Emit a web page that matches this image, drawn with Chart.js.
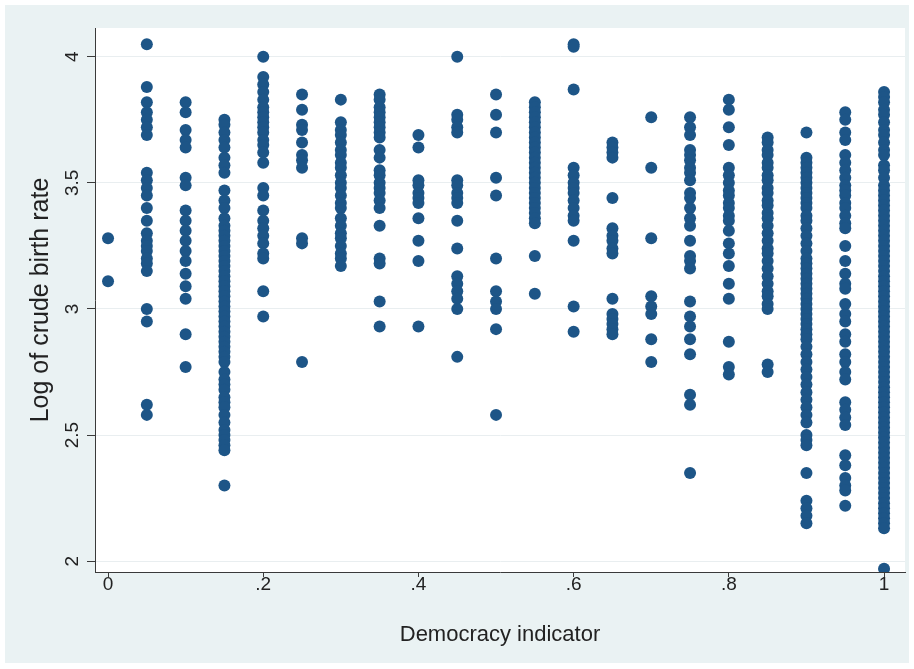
<!DOCTYPE html>
<html>
<head>
<meta charset="utf-8">
<script src="https://cdn.jsdelivr.net/npm/chart.js@4.4.1/dist/chart.umd.min.js"></script>
<style>
  html, body { margin: 0; padding: 0; background: #ffffff; }
  #wrap { position: relative; width: 914px; height: 669px; }
</style>
</head>
<body>
<div id="wrap"><canvas id="chart" width="914" height="669"></canvas></div>
<script>
// democracy indicator categories (x) and log crude birth rate values
const democracy = [0, 0.05, 0.1, 0.15, 0.2, 0.25, 0.3, 0.35, 0.4, 0.45, 0.5,
  0.55, 0.6, 0.65, 0.7, 0.75, 0.8, 0.85, 0.9, 0.95, 1];

const rate00 = [3.28, 3.11];
const rate05 = [4.05, 3.88, 3.82, 3.78, 3.75, 3.72, 3.69, 3.54, 3.51, 3.48, 3.45, 3.40, 3.35,
  3.30, 3.27, 3.25, 3.23, 3.20, 3.18, 3.15, 3.00, 2.95, 2.62, 2.58];
const rate10 = [3.82, 3.78, 3.71, 3.67, 3.64, 3.52, 3.49, 3.39, 3.35, 3.31, 3.27, 3.23, 3.19,
  3.14, 3.09, 3.04, 2.90, 2.77];
const rate15 = [3.75, 3.73, 3.70, 3.67, 3.64, 3.60, 3.57, 3.54, 3.47, 3.43, 3.40, 3.36, 3.33,
  3.31, 3.29, 3.27, 3.25, 3.23, 3.21, 3.19, 3.17, 3.15, 3.13, 3.11, 3.09, 3.07, 3.05, 3.03,
  3.01, 2.99, 2.97, 2.95, 2.93, 2.91, 2.89, 2.87, 2.85, 2.83, 2.81, 2.79, 2.75, 2.72, 2.70,
  2.68, 2.65, 2.63, 2.61, 2.58, 2.55, 2.52, 2.50, 2.48, 2.46, 2.44, 2.30];
const rate20 = [4.00, 3.92, 3.89, 3.86, 3.83, 3.80, 3.78, 3.76, 3.74, 3.72, 3.70, 3.67, 3.65,
  3.62, 3.58, 3.48, 3.45, 3.39, 3.35, 3.32, 3.29, 3.26, 3.22, 3.20, 3.07, 2.97];
const rate25 = [3.85, 3.79, 3.73, 3.71, 3.66, 3.61, 3.59, 3.56, 3.28, 3.26, 2.79];
const rate30 = [3.83, 3.74, 3.71, 3.69, 3.66, 3.63, 3.61, 3.58, 3.56, 3.53, 3.50, 3.48, 3.45,
  3.42, 3.40, 3.36, 3.33, 3.30, 3.28, 3.25, 3.22, 3.20, 3.17];
const rate35 = [3.85, 3.83, 3.80, 3.78, 3.76, 3.74, 3.72, 3.70, 3.68, 3.63, 3.60, 3.55, 3.53,
  3.50, 3.48, 3.46, 3.43, 3.40, 3.33, 3.20, 3.18, 3.03, 2.93];
const rate40 = [3.69, 3.64, 3.51, 3.49, 3.46, 3.44, 3.42, 3.36, 3.27, 3.19, 2.93];
const rate45 = [4.00, 3.77, 3.75, 3.72, 3.70, 3.51, 3.49, 3.46, 3.44, 3.42, 3.35, 3.24, 3.13,
  3.10, 3.07, 3.04, 3.00, 2.81];
const rate50 = [3.85, 3.77, 3.70, 3.52, 3.45, 3.20, 3.07, 3.03, 3.00, 2.92, 2.58];
const rate55 = [3.82, 3.80, 3.78, 3.76, 3.74, 3.72, 3.70, 3.68, 3.66, 3.64, 3.62, 3.60, 3.58,
  3.56, 3.54, 3.52, 3.50, 3.48, 3.46, 3.44, 3.42, 3.40, 3.38, 3.36, 3.34, 3.21, 3.06];
const rate60 = [4.05, 4.04, 3.87, 3.56, 3.53, 3.50, 3.48, 3.46, 3.43, 3.40, 3.37, 3.35, 3.27,
  3.01, 2.91];
const rate65 = [3.66, 3.64, 3.62, 3.60, 3.44, 3.32, 3.29, 3.27, 3.24, 3.22, 3.04, 2.98, 2.96,
  2.94, 2.92, 2.90];
const rate70 = [3.76, 3.56, 3.28, 3.05, 3.01, 2.98, 2.88, 2.79];
const rate75 = [3.76, 3.72, 3.69, 3.63, 3.61, 3.59, 3.56, 3.54, 3.51, 3.46, 3.44, 3.40, 3.36,
  3.33, 3.27, 3.21, 3.19, 3.16, 3.03, 2.97, 2.93, 2.88, 2.82, 2.66, 2.62, 2.35];
const rate80 = [3.83, 3.79, 3.72, 3.65, 3.56, 3.53, 3.50, 3.47, 3.45, 3.42, 3.40, 3.37, 3.35,
  3.31, 3.26, 3.22, 3.17, 3.10, 3.04, 2.87, 2.77, 2.74];
const rate85 = [3.68, 3.66, 3.63, 3.61, 3.58, 3.56, 3.53, 3.51, 3.48, 3.46, 3.43, 3.41, 3.38,
  3.36, 3.33, 3.30, 3.27, 3.24, 3.22, 3.19, 3.16, 3.13, 3.10, 3.07, 3.05, 3.02, 3.00, 2.78, 2.75];
const rate90 = [3.70, 3.60, 3.58, 3.56, 3.54, 3.52, 3.50, 3.48, 3.46, 3.44, 3.42, 3.40, 3.37,
  3.35, 3.32, 3.29, 3.26, 3.23, 3.20, 3.18, 3.16, 3.14, 3.12, 3.10, 3.08, 3.06, 3.04, 3.02,
  3.00, 2.98, 2.96, 2.94, 2.92, 2.90, 2.88, 2.85, 2.82, 2.79, 2.76, 2.73, 2.70, 2.67, 2.64,
  2.61, 2.58, 2.55, 2.50, 2.48, 2.46, 2.35, 2.24, 2.21, 2.18, 2.15];
const rate95 = [3.78, 3.75, 3.70, 3.67, 3.61, 3.58, 3.55, 3.52, 3.49, 3.47, 3.45, 3.42, 3.40,
  3.37, 3.34, 3.32, 3.25, 3.19, 3.14, 3.10, 3.08, 3.02, 2.98, 2.95, 2.90, 2.87, 2.82, 2.79,
  2.75, 2.72, 2.63, 2.60, 2.57, 2.54, 2.42, 2.38, 2.33, 2.30, 2.28, 2.22];
const rate100 = [3.86, 3.84, 3.82, 3.79, 3.77, 3.74, 3.71, 3.69, 3.66, 3.63, 3.61, 3.57, 3.55,
  3.52, 3.49, 3.47, 3.45, 3.43, 3.41, 3.39, 3.37, 3.35, 3.33, 3.31, 3.29, 3.27, 3.25, 3.23,
  3.21, 3.19, 3.17, 3.15, 3.13, 3.11, 3.09, 3.07, 3.05, 3.03, 3.01, 2.99, 2.97, 2.95, 2.93,
  2.91, 2.89, 2.87, 2.85, 2.83, 2.81, 2.79, 2.77, 2.75, 2.73, 2.71, 2.69, 2.67, 2.65, 2.63,
  2.61, 2.59, 2.57, 2.55, 2.53, 2.51, 2.49, 2.47, 2.45, 2.43, 2.41, 2.39, 2.37, 2.35, 2.33,
  2.31, 2.29, 2.27, 2.25, 2.23, 2.21, 2.19, 2.17, 2.15, 2.13, 1.97];

const rateColumns = [rate00, rate05, rate10, rate15, rate20, rate25, rate30, rate35, rate40,
  rate45, rate50, rate55, rate60, rate65, rate70, rate75, rate80, rate85, rate90, rate95, rate100];

const xTicks = [0, 0.2, 0.4, 0.6, 0.8, 1];
const xTickLabels = ['0', '.2', '.4', '.6', '.8', '1'];
const yTicks = [2, 2.5, 3, 3.5, 4];
const yTickLabels = ['2', '2.5', '3', '3.5', '4'];

const points = [];
democracy.forEach((d, i) => {
  rateColumns[i].forEach((v) => points.push({ x: d, y: v }));
});

const axisColor = '#3a3a3a';
const fontFamily = '"Liberation Sans", Arial, Helvetica, sans-serif';

// light stata-like graph region behind a white plot region
const backgroundPlugin = {
  id: 'background',
  beforeDraw(chart) {
    const { ctx, chartArea } = chart;
    ctx.save();
    ctx.fillStyle = '#ffffff';
    ctx.fillRect(0, 0, chart.width, chart.height);
    ctx.fillStyle = '#eaf2f3';
    ctx.fillRect(5, 5, chart.width - 10, chart.height - 11);
    ctx.fillStyle = '#ffffff';
    ctx.fillRect(chartArea.left, chartArea.top,
      chartArea.right - chartArea.left, chartArea.bottom - chartArea.top);
    ctx.restore();
  }
};

new Chart(document.getElementById('chart'), {
  type: 'scatter',
  data: {
    datasets: [{
      data: points,
      backgroundColor: 'rgb(29, 85, 135)',
      borderWidth: 0,
      pointRadius: 6,
      pointHoverRadius: 6
    }]
  },
  plugins: [backgroundPlugin],
  options: {
    responsive: false,
    animation: false,
    layout: { padding: { left: 0, top: 28, right: 9, bottom: 0 } },
    plugins: {
      legend: { display: false },
      tooltip: { enabled: false }
    },
    scales: {
      x: {
        type: 'linear',
        min: -0.0168,
        max: 1.027,
        afterBuildTicks: (scale) => { scale.ticks = xTicks.map((v) => ({ value: v })); },
        afterFit: (scale) => { scale.height = 97; },
        ticks: {
          callback: (v) => xTickLabels[xTicks.indexOf(v)],
          color: '#222222',
          font: { family: fontFamily, size: 19 },
          padding: -4,
          maxRotation: 0
        },
        grid: {
          drawOnChartArea: false,
          drawTicks: true,
          tickLength: 5,
          tickColor: axisColor
        },
        border: { display: true, color: axisColor, width: 1 },
        title: {
          display: true,
          text: 'Democracy indicator',
          color: '#222222',
          font: { family: fontFamily, size: 22 },
          padding: { top: 0, bottom: 21 }
        }
      },
      y: {
        type: 'linear',
        min: 1.957,
        max: 4.114,
        afterBuildTicks: (scale) => { scale.ticks = yTicks.map((v) => ({ value: v })); },
        afterFit: (scale) => { scale.width = 95; },
        ticks: {
          callback: (v) => yTickLabels[yTicks.indexOf(v)],
          color: '#222222',
          font: { family: fontFamily, size: 19 },
          minRotation: 90,
          maxRotation: 90,
          crossAlign: 'center',
          padding: 1
        },
        grid: {
          color: '#e9eef0',
          lineWidth: 1,
          drawTicks: true,
          tickLength: 8,
          tickColor: axisColor
        },
        border: { display: true, color: axisColor, width: 1 },
        title: {
          display: true,
          text: 'Log of crude birth rate',
          color: '#222222',
          font: { family: fontFamily, size: 25 },
          padding: { top: 26, bottom: 0 }
        }
      }
    }
  }
});
</script>
</body>
</html>
